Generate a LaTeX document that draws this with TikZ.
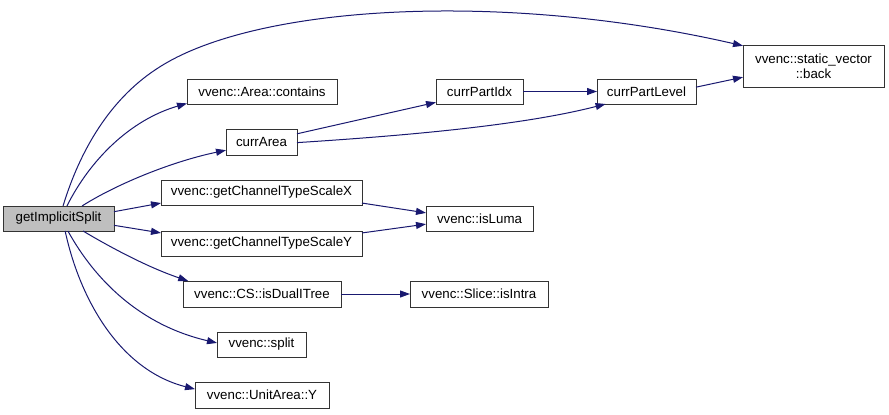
\documentclass[tikz,border=0pt]{standalone}
\usepackage{fontspec}
\setmainfont{Liberation Sans}
\usetikzlibrary{arrows.meta}
\definecolor{edgeblue}{HTML}{191970}
\definecolor{boxline}{HTML}{333333}
\definecolor{curfill}{HTML}{BFBFBF}
\begin{document}
\begin{tikzpicture}[x=1pt,y=-1pt,
  fn/.style={draw=boxline,line width=1pt,fill=white,rectangle,inner sep=0pt,outer sep=0pt,
    align=center,font=\fontsize{13.3}{14.5}\selectfont,text=black},
  cur/.style={fn,fill=curfill},
  call/.style={draw=edgeblue,line width=1pt,-{Triangle[length=10pt,width=7pt]},fill=none}]
\useasboundingbox (0,0) rectangle (889,415);
\fill[white] (0,0) rectangle (889,415);
% nodes
\node[cur,minimum width=111pt,minimum height=25pt] (gis) at (58.5,218.5) {getImplicitSplit};
\node[fn,minimum width=150pt,minimum height=25pt] (contains) at (262,91.5) {vvenc::Area::contains};
\node[fn,minimum width=71pt,minimum height=26pt] (carea) at (261.5,142) {currArea};
\node[fn,minimum width=201pt,minimum height=25pt] (scx) at (261.5,192.5) {vvenc::getChannelTypeScaleX};
\node[fn,minimum width=201pt,minimum height=25pt] (scy) at (261.5,243.5) {vvenc::getChannelTypeScaleY};
\node[fn,minimum width=158pt,minimum height=26pt] (dual) at (262,294) {vvenc::CS::isDualITree};
\node[fn,minimum width=89pt,minimum height=25pt] (split) at (261.5,344.5) {vvenc::split};
\node[fn,minimum width=134pt,minimum height=26pt] (uay) at (262,395) {vvenc::UnitArea::Y};
\node[fn,minimum width=87pt,minimum height=25pt] (pidx) at (479.5,91.5) {currPartIdx};
\node[fn,minimum width=99pt,minimum height=25pt] (plev) at (646.5,91.5) {currPartLevel};
\node[fn,minimum width=141pt,minimum height=42pt] (back) at (813.5,66) {vvenc::static\_vector\\::back};
\node[fn,minimum width=107pt,minimum height=25pt] (luma) at (479.5,218.5) {vvenc::isLuma};
\node[fn,minimum width=138pt,minimum height=26pt] (intra) at (479,294) {vvenc::Slice::isIntra};
% connectors
\draw[call] (gis.70) .. controls (80,150) and (110,100) .. (155,70)
   .. controls (250,5) and (500,-10) .. (back.164);
\draw[call] (gis.56) .. controls (90,160) and (130,120) .. (contains.-171);
\draw[call] (gis.28) .. controls (115,185) and (170,162) .. (carea.-167);
\draw[call] (gis.7) -- (scx.-174);
\draw[call] (gis.-7) -- (scy.174);
\draw[call] (gis.-27) .. controls (115,250) and (150,268) .. (dual.170);
\draw[call] (gis.-53) .. controls (95,280) and (140,325) .. (split.178);
\draw[call] (gis.-62) .. controls (80,300) and (120,370) .. (uay.175);
\draw[call] (carea.13) -- (pidx.-166);
\draw[call] (carea.-1) .. controls (400,136) and (520,126) .. (plev.-163);
\draw[call] (pidx) -- (plev);
\draw[call] (plev.5) -- (back.-171);
\draw[call] (scx.-6) -- (luma.174);
\draw[call] (scy.6) -- (luma.-174);
\draw[call] (dual) -- (intra);
\end{tikzpicture}
\end{document}
